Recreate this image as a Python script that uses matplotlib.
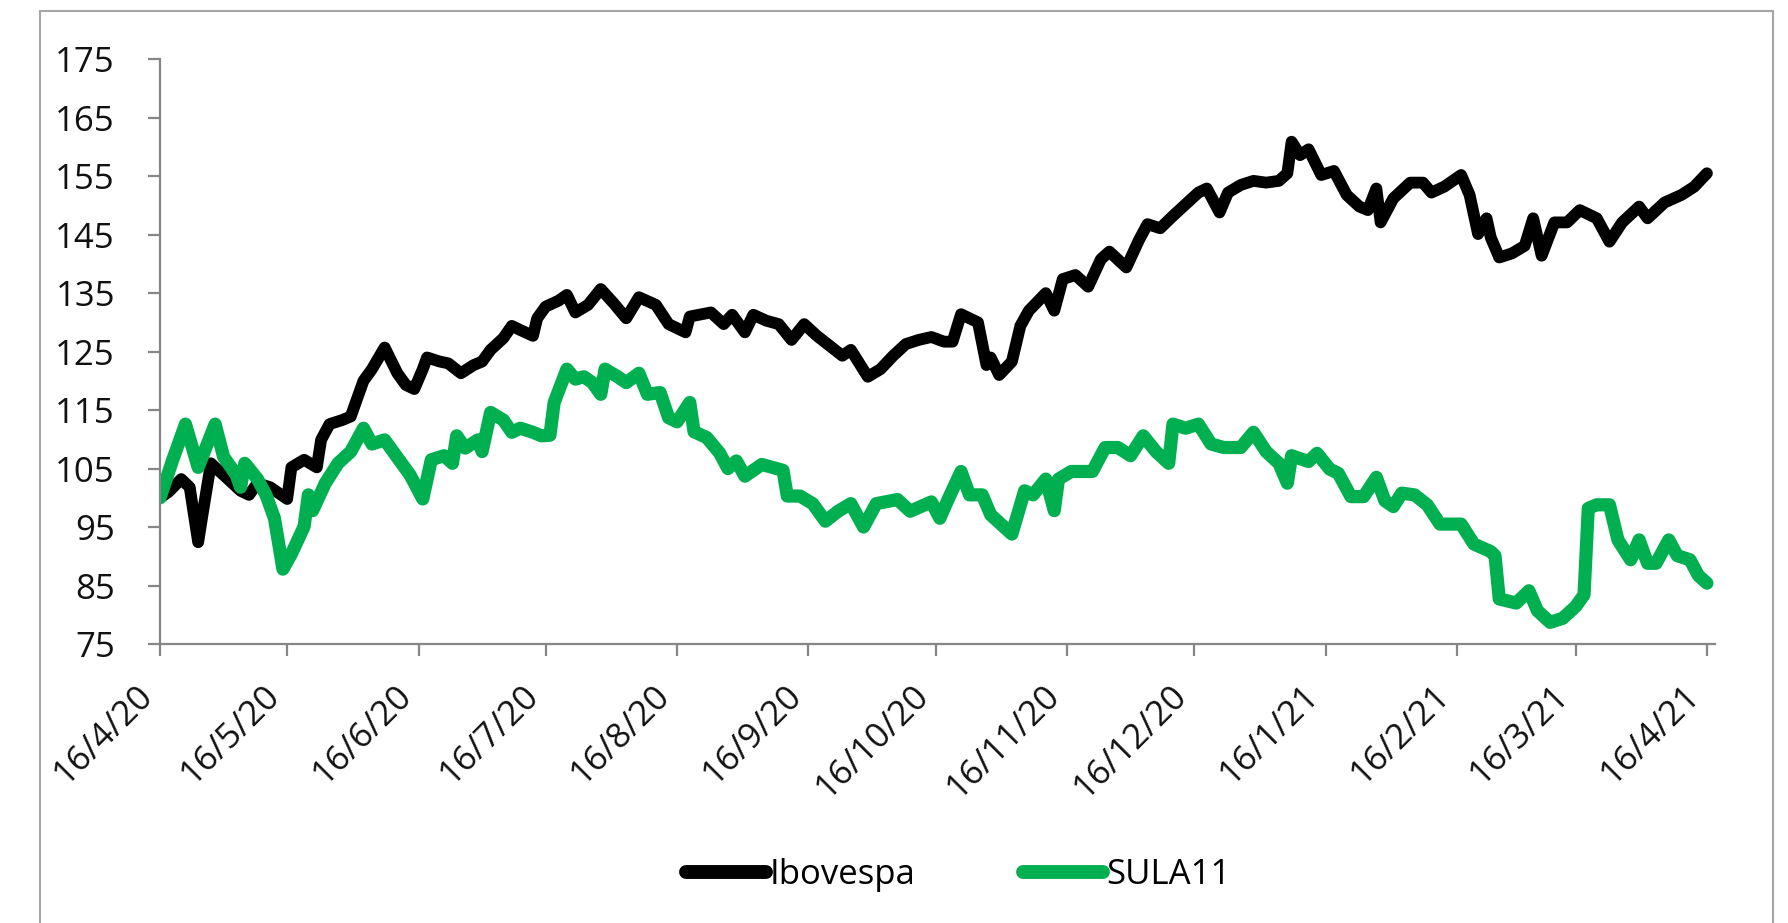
import numpy as np;
import pandas as pd;
import matplotlib;
matplotlib.use("Agg");
import matplotlib.pyplot as plt;
from matplotlib.patches import Rectangle;

# Ibovespa, rebased to 100 on 16/4/20
ibov_dates = ["2020-04-16", "2020-04-18", "2020-04-21", "2020-04-23", "2020-04-25", "2020-04-26",
              "2020-04-28", "2020-04-29", "2020-05-01", "2020-05-05", "2020-05-07", "2020-05-09",
              "2020-05-12", "2020-05-16", "2020-05-17", "2020-05-20", "2020-05-23", "2020-05-24",
              "2020-05-26", "2020-05-29", "2020-05-31", "2020-06-03", "2020-06-05", "2020-06-08",
              "2020-06-11", "2020-06-13", "2020-06-15", "2020-06-17", "2020-06-18", "2020-06-21",
              "2020-06-23", "2020-06-26", "2020-06-29", "2020-07-01", "2020-07-03", "2020-07-06",
              "2020-07-08", "2020-07-10", "2020-07-13", "2020-07-14", "2020-07-16", "2020-07-19",
              "2020-07-21", "2020-07-23", "2020-07-26", "2020-07-29", "2020-08-01", "2020-08-04",
              "2020-08-07", "2020-08-11", "2020-08-14", "2020-08-18", "2020-08-19", "2020-08-24",
              "2020-08-27", "2020-08-29", "2020-09-01", "2020-09-03", "2020-09-06", "2020-09-09",
              "2020-09-12", "2020-09-15", "2020-09-18", "2020-09-21", "2020-09-24", "2020-09-26",
              "2020-09-30", "2020-10-03", "2020-10-06", "2020-10-09", "2020-10-12", "2020-10-15",
              "2020-10-18", "2020-10-20", "2020-10-22", "2020-10-26", "2020-10-28", "2020-10-29",
              "2020-10-31", "2020-11-03", "2020-11-05", "2020-11-07", "2020-11-11", "2020-11-13",
              "2020-11-15", "2020-11-18", "2020-11-21", "2020-11-24", "2020-11-26", "2020-11-30",
              "2020-12-03", "2020-12-05", "2020-12-08", "2020-12-11", "2020-12-14", "2020-12-17",
              "2020-12-19", "2020-12-22", "2020-12-24", "2020-12-27", "2020-12-30", "2021-01-02",
              "2021-01-05", "2021-01-07", "2021-01-08", "2021-01-10", "2021-01-12", "2021-01-15",
              "2021-01-18", "2021-01-21", "2021-01-24", "2021-01-26", "2021-01-28", "2021-01-29",
              "2021-02-01", "2021-02-05", "2021-02-08", "2021-02-10", "2021-02-13", "2021-02-17",
              "2021-02-19", "2021-02-21", "2021-02-23", "2021-02-24", "2021-02-26", "2021-03-01",
              "2021-03-04", "2021-03-06", "2021-03-08", "2021-03-11", "2021-03-14", "2021-03-17",
              "2021-03-21", "2021-03-24", "2021-03-27", "2021-03-31", "2021-04-02", "2021-04-06",
              "2021-04-10", "2021-04-13", "2021-04-16"];
ibov_vals = [100, 101, 103.2, 101.8, 92.4, 97,
             105.9, 105.2, 103.9, 101.2, 100.5, 102.5,
             101.8, 99.8, 105.2, 106.5, 105.2, 109.9,
             112.6, 113.3, 113.9, 120, 122, 125.7,
             121.3, 119.3, 118.6, 122, 124, 123.3,
             123, 121.3, 122.7, 123.3, 125.3, 127.3,
             129.4, 128.7, 127.7, 130.7, 132.7, 133.7,
             134.7, 131.7, 133, 135.7, 133.3, 130.7,
             134.3, 133, 129.7, 128.3, 131, 131.7,
             129.7, 131.3, 128.3, 131.3, 130.3, 129.7,
             127, 129.7, 127.7, 126, 124.3, 125.3,
             120.7, 122, 124.3, 126.3, 127, 127.5,
             126.7, 126.7, 131.4, 130, 122.7, 124,
             121, 123.3, 129.4, 132, 135, 132,
             137.4, 138.1, 136.1, 140.8, 142.1, 139.4,
             144.1, 146.8, 146.1, 148.2, 150.2, 152.2,
             152.9, 148.8, 152.2, 153.5, 154.2, 153.9,
             154.2, 155.5, 160.9, 158.6, 159.6, 155.2,
             155.9, 151.8, 149.8, 149.2, 152.9, 147.1,
             151.2, 153.9, 153.9, 152.2, 153.2, 155.2,
             151.8, 145.1, 147.8, 144.5, 141.1, 141.8,
             143.1, 147.8, 141.4, 147.1, 147.1, 149.2,
             147.8, 143.8, 147.1, 149.8, 147.8, 150.5,
             151.8, 153.2, 155.5];

# SULA11, rebased to 100 on 16/4/20
sula_dates = ["2020-04-16", "2020-04-19", "2020-04-22", "2020-04-25", "2020-04-29", "2020-05-01",
              "2020-05-04", "2020-05-05", "2020-05-06", "2020-05-09", "2020-05-11", "2020-05-13",
              "2020-05-15", "2020-05-17", "2020-05-20", "2020-05-21", "2020-05-22", "2020-05-25",
              "2020-05-28", "2020-05-31", "2020-06-03", "2020-06-05", "2020-06-08", "2020-06-12",
              "2020-06-14", "2020-06-17", "2020-06-19", "2020-06-22", "2020-06-24", "2020-06-25",
              "2020-06-27", "2020-06-30", "2020-07-01", "2020-07-03", "2020-07-06", "2020-07-08",
              "2020-07-10", "2020-07-13", "2020-07-15", "2020-07-17", "2020-07-18", "2020-07-21",
              "2020-07-23", "2020-07-25", "2020-07-27", "2020-07-29", "2020-07-30", "2020-08-02",
              "2020-08-04", "2020-08-07", "2020-08-09", "2020-08-12", "2020-08-14", "2020-08-16",
              "2020-08-19", "2020-08-20", "2020-08-23", "2020-08-26", "2020-08-28", "2020-08-30",
              "2020-09-01", "2020-09-05", "2020-09-10", "2020-09-11", "2020-09-14", "2020-09-17",
              "2020-09-20", "2020-09-23", "2020-09-26", "2020-09-29", "2020-10-02", "2020-10-07",
              "2020-10-10", "2020-10-15", "2020-10-17", "2020-10-19", "2020-10-22", "2020-10-24",
              "2020-10-27", "2020-10-29", "2020-11-01", "2020-11-03", "2020-11-06", "2020-11-08",
              "2020-11-11", "2020-11-13", "2020-11-14", "2020-11-17", "2020-11-22", "2020-11-25",
              "2020-11-28", "2020-12-01", "2020-12-04", "2020-12-07", "2020-12-10", "2020-12-11",
              "2020-12-14", "2020-12-17", "2020-12-20", "2020-12-23", "2020-12-27", "2020-12-30",
              "2021-01-02", "2021-01-05", "2021-01-07", "2021-01-08", "2021-01-12", "2021-01-14",
              "2021-01-17", "2021-01-19", "2021-01-22", "2021-01-25", "2021-01-28", "2021-01-30",
              "2021-02-01", "2021-02-03", "2021-02-06", "2021-02-09", "2021-02-12", "2021-02-17",
              "2021-02-20", "2021-02-24", "2021-02-25", "2021-02-26", "2021-03-02", "2021-03-05",
              "2021-03-07", "2021-03-10", "2021-03-13", "2021-03-16", "2021-03-18", "2021-03-19",
              "2021-03-21", "2021-03-24", "2021-03-26", "2021-03-29", "2021-03-31", "2021-04-02",
              "2021-04-04", "2021-04-07", "2021-04-09", "2021-04-12", "2021-04-14", "2021-04-16"];
sula_vals = [100, 106.5, 112.6, 105.2, 112.6, 107,
             103.9, 101.8, 105.9, 103.2, 100.5, 96.5,
             87.8, 90.4, 95.1, 100.5, 97.8, 102.5,
             105.9, 107.9, 111.9, 109.2, 109.9, 105.9,
             103.9, 99.8, 106.5, 107.2, 105.9, 110.6,
             108.5, 109.9, 107.9, 114.6, 113.3, 111.2,
             111.9, 111.2, 110.6, 110.7, 116.3, 122,
             120.3, 120.7, 119.7, 117.7, 122, 120.7,
             119.7, 121.3, 117.7, 118, 113.7, 113,
             116.3, 111.3, 110.3, 107.7, 105, 106.3,
             103.7, 105.7, 104.7, 100.3, 100.3, 99,
             96, 97.7, 99, 95, 99, 99.7,
             97.7, 99.3, 96.5, 99.8, 104.5, 100.5,
             100.5, 97.1, 95.1, 93.8, 101.2, 100.5,
             103.2, 97.8, 103.2, 104.5, 104.5, 108.6,
             108.6, 107.2, 110.6, 107.9, 105.9, 112.6,
             111.9, 112.6, 109.2, 108.6, 108.6, 111.2,
             107.9, 105.9, 102.5, 107.2, 106.2, 107.6,
             104.9, 104.2, 100.2, 100.2, 103.5, 99.5,
             98.5, 100.8, 100.5, 98.8, 95.5, 95.5,
             92.1, 90.8, 90.1, 82.7, 82, 84.1,
             80.7, 78.7, 79.4, 81.4, 83.4, 98.2,
             98.8, 98.8, 92.8, 89.4, 92.8, 88.8,
             88.8, 92.8, 90.1, 89.4, 86.7, 85.4];

tick_dates = ["2020-04-16", "2020-05-16", "2020-06-16", "2020-07-16", "2020-08-16", "2020-09-16",
              "2020-10-16", "2020-11-16", "2020-12-16", "2021-01-16", "2021-02-16", "2021-03-16",
              "2021-04-16"];
tick_labels = ["16/4/20", "16/5/20", "16/6/20", "16/7/20", "16/8/20", "16/9/20",
               "16/10/20", "16/11/20", "16/12/20", "16/1/21", "16/2/21", "16/3/21",
               "16/4/21"];
y_ticks = [75, 85, 95, 105, 115, 125, 135, 145, 155, 165, 175];

plt.rcParams['font.family'] = ['Open Sans', 'DejaVu Sans'];

GRAY = '#868686';
GREEN = '#00B050';

fig = plt.figure(figsize=(17.88, 9.23), dpi=100);
fig.patch.set_facecolor('white');

# outer chart frame (bottom edge runs off the picture)
fig.patches.append(Rectangle((0.0224, -0.05), 0.9692, 1.038, transform=fig.transFigure,
                             fill=False, edgecolor='#a6a6a6', linewidth=1.5));

ax = fig.add_axes([0.0895, 0.3023, 0.9594 - 0.0895, 0.6335]);

ax.plot(pd.to_datetime(ibov_dates), ibov_vals, color='black', linewidth=8.5,
        solid_capstyle='round', solid_joinstyle='round', label='Ibovespa');
ax.plot(pd.to_datetime(sula_dates), sula_vals, color=GREEN, linewidth=9.5,
        solid_capstyle='round', solid_joinstyle='round', label='SULA11');

ax.set_xlim(pd.Timestamp("2020-04-16"), pd.Timestamp("2021-04-18"));
ax.set_ylim(75, 175);
ax.set_yticks(y_ticks);
ax.set_xticks(pd.to_datetime(tick_dates));
ax.set_xticklabels(tick_labels, rotation=45, ha='right', rotation_mode='default');

for s in ['top', 'right']:
    ax.spines[s].set_visible(False);
for s in ['left', 'bottom']:
    ax.spines[s].set_color(GRAY);
    ax.spines[s].set_linewidth(1.6);

ax.tick_params(axis='y', direction='out', length=8.5, width=1.6, color=GRAY,
               labelsize=25, labelcolor='#111111', pad=24);
ax.tick_params(axis='x', direction='out', length=8.5, width=1.6, color=GRAY,
               labelsize=25, labelcolor='#111111', pad=16);

leg = fig.legend(loc='center', bbox_to_anchor=(0.536, 0.052), ncol=2, frameon=False,
                 fontsize=25, handlelength=2.3, handletextpad=0.1, columnspacing=3.1);
for line in leg.get_lines():
    line.set_linewidth(10);
    line.set_solid_capstyle('round');

fig.savefig('out.png', dpi=100, facecolor='white');
plt.close(fig);
